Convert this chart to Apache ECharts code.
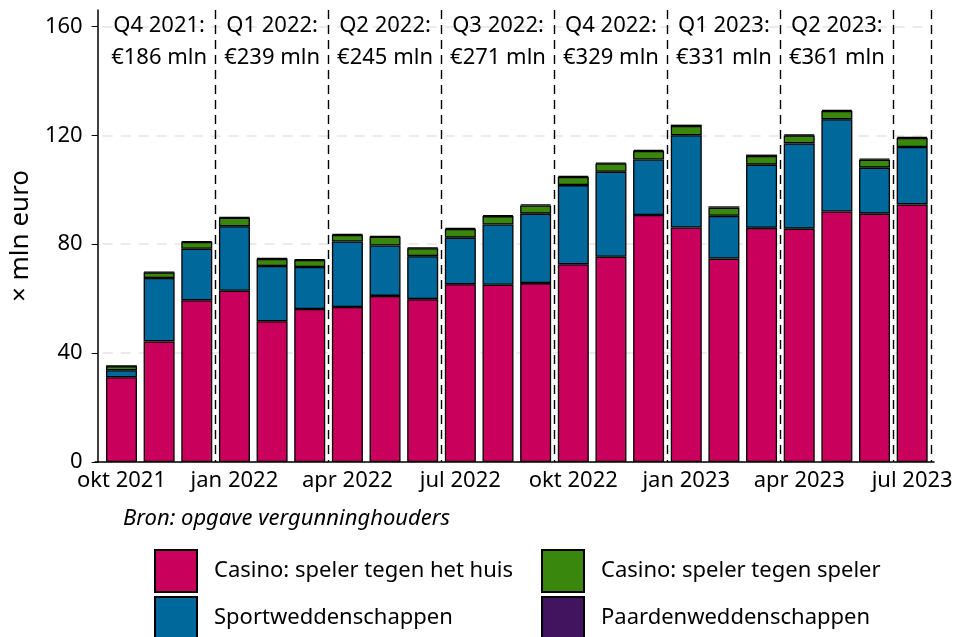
<!DOCTYPE html>
<html>
<head>
<meta charset="utf-8">
<script src="https://cdn.jsdelivr.net/npm/echarts@6/dist/echarts.min.js"></script>
<style>
  html, body { margin: 0; padding: 0; background: #fff; }
  #chart { width: 957px; height: 637px; }
</style>
</head>
<body>
<div id="chart"></div>
<script>
// maanden (okt 2021 t/m jul 2023)
var months = ['okt 2021', 'nov 2021', 'dec 2021', 'jan 2022', 'feb 2022', 'mrt 2022',
  'apr 2022', 'mei 2022', 'jun 2022', 'jul 2022', 'aug 2022', 'sep 2022',
  'okt 2022', 'nov 2022', 'dec 2022', 'jan 2023', 'feb 2023', 'mrt 2023',
  'apr 2023', 'mei 2023', 'jun 2023', 'jul 2023'];

// x mln euro per maand
var casinoHuis = [31.1, 44.3, 59.4, 62.9, 51.7, 56.2, 56.9, 61.0, 59.8, 65.3, 65.1,
  65.7, 72.6, 75.4, 90.7, 86.1, 74.7, 86.0, 85.7, 92.0, 91.2, 94.6];
var sport = [2.6, 23.3, 18.9, 23.7, 20.3, 15.4, 24.1, 18.5, 15.8, 17.1, 22.1,
  25.5, 29.1, 31.2, 20.4, 33.9, 15.7, 23.2, 31.3, 33.9, 16.9, 21.1];
var casinoSpeler = [1.5, 2.0, 2.5, 3.1, 2.6, 2.6, 2.4, 3.2, 2.9, 3.2, 3.1,
  3.0, 3.0, 3.0, 3.1, 3.4, 3.0, 3.2, 2.9, 3.0, 2.9, 3.3];
var paarden = [0.1, 0.2, 0.3, 0.3, 0.3, 0.3, 0.3, 0.3, 0.3, 0.4, 0.4,
  0.4, 0.4, 0.4, 0.4, 0.5, 0.5, 0.5, 0.4, 0.4, 0.4, 0.4];

// kwartaaltotalen
var quarterNames = ['Q4 2021', 'Q1 2022', 'Q2 2022', 'Q3 2022', 'Q4 2022', 'Q1 2023', 'Q2 2023'];
var quarterTotals = [186, 239, 245, 271, 329, 331, 361];

var yTicks = [0, 40, 80, 120, 160];

var FONT = 'Noto Sans';

var chart = echarts.init(document.getElementById('chart'), null, { renderer: 'canvas' });

function bar(name, data, color) {
  return {
    name: name,
    type: 'bar',
    stack: 'totaal',
    data: data,
    barWidth: 31,
    itemStyle: { color: color, borderColor: '#000', borderWidth: 1.3 }
  };
}

// legenda: twee kolommen
function legendCol(left, names) {
  return {
    orient: 'vertical', left: left, top: 549,
    height: 200, padding: 0,
    itemWidth: 42, itemHeight: 42, itemGap: 3,
    icon: 'rect',
    data: names,
    textStyle: { fontFamily: FONT, fontSize: 22, color: '#000', padding: [0, 0, 0, 12] }
  };
}

var option = {
  backgroundColor: '#fff',
  animation: false,
  textStyle: { fontFamily: FONT },
  title: {
    text: 'Bron: opgave vergunninghouders',
    left: 118,
    top: 503,
    textStyle: { fontFamily: FONT, fontSize: 22, fontStyle: 'italic', fontWeight: 'normal', color: '#000' }
  },
  grid: [
    { left: 100, right: 26, top: 10, bottom: 175 },
    // alleen voor de doorlopende x-aslijn
    { left: 95, right: 23, top: 10, bottom: 175 }
  ],
  legend: [
    legendCol(154, ['Casino: speler tegen het huis', 'Sportweddenschappen']),
    legendCol(541, ['Casino: speler tegen speler', 'Paardenweddenschappen'])
  ],
  xAxis: [
    {
      type: 'category',
      data: months,
      axisLine: { show: false },
      axisTick: {
        alignWithLabel: true, length: 6,
        interval: function (i) { return i % 3 === 0; },
        lineStyle: { color: '#000' }
      },
      axisLabel: {
        interval: function (i) { return i % 3 === 0; },
        fontSize: 22, color: '#000', margin: 8
      },
      splitLine: {
        show: true,
        interval: function (i) { return i % 3 === 0 && i > 0; },
        lineStyle: { color: '#000', type: [9, 6], width: 1.4 }
      }
    },
    {
      type: 'category',
      data: months,
      position: 'top',
      axisLine: { show: false },
      axisTick: { show: false },
      axisLabel: {
        inside: true,
        margin: 0,
        interval: function (i) { return i % 3 === 1; },
        formatter: function (v, i) {
          var q = (i - 1) / 3;
          return quarterNames[q] + ':\n€' + quarterTotals[q] + ' mln';
        },
        fontSize: 22, lineHeight: 32, color: '#000'
      }
    },
    {
      type: 'value',
      gridIndex: 1,
      min: 0, max: 1,
      axisLine: { show: true, onZero: false, lineStyle: { color: '#000', width: 1.5 } },
      axisTick: { show: false },
      axisLabel: { show: false },
      splitLine: { show: false }
    }
  ],
  yAxis: [
    {
      type: 'value',
      min: 0,
      max: 166,
      interval: 40,
      offset: 5,
      name: '× mln euro',
      nameLocation: 'middle',
      nameGap: 50,
      nameTextStyle: { fontFamily: FONT, fontSize: 26, color: '#000' },
      axisLine: { show: true, lineStyle: { color: '#000', width: 1.5 } },
      axisTick: { show: true, length: 6, customValues: yTicks, lineStyle: { color: '#000' } },
      axisLabel: { customValues: yTicks, fontSize: 22, color: '#000', margin: 15 },
      splitLine: { show: true, lineStyle: { color: '#e5e5e5', type: [10, 8], width: 1.5 } }
    },
    {
      type: 'value',
      gridIndex: 1,
      show: false
    }
  ],
  series: [
    bar('Casino: speler tegen het huis', casinoHuis, '#ca005d'),
    bar('Sportweddenschappen', sport, '#01689b'),
    bar('Casino: speler tegen speler', casinoSpeler, '#39870c'),
    bar('Paardenweddenschappen', paarden, '#42145f')
  ]
};

chart.setOption(option);
</script>
</body>
</html>
